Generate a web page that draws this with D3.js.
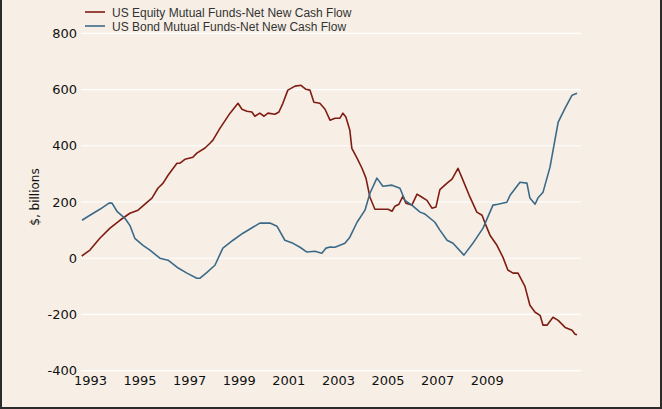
<!DOCTYPE html>
<html>
<head>
<meta charset="utf-8">
<script src="https://cdn.jsdelivr.net/npm/d3@7"></script>
<style>
	body { margin: 0; background: #f7efe6; }
	svg { display: block; }
</style>
</head>
<body>
<div class="chart"></div>
<script>

const equityYears = [1992.67, 1993.00, 1993.40, 1993.81, 1994.21, 1994.61, 1994.94, 1995.30, 1995.50, 1995.74,
	1995.95, 1996.15, 1996.51, 1996.63, 1996.83, 1997.15, 1997.31, 1997.64, 1997.84, 1997.96,
	1998.24, 1998.65, 1998.97, 1999.13, 1999.33, 1999.53, 1999.65, 1999.85, 2000.02, 2000.18,
	2000.46, 2000.62, 2000.78, 2000.98, 2001.27, 2001.51, 2001.71, 2001.87, 2002.03, 2002.27,
	2002.48, 2002.68, 2002.88, 2003.08, 2003.20, 2003.32, 2003.48, 2003.56, 2003.77, 2003.97,
	2004.13, 2004.29, 2004.49, 2004.81, 2005.02, 2005.18, 2005.30, 2005.46, 2005.62, 2005.74,
	2005.98, 2006.19, 2006.39, 2006.59, 2006.79, 2006.95, 2007.11, 2007.40, 2007.60, 2007.84,
	2008.04, 2008.32, 2008.60, 2008.81, 2008.93, 2009.13, 2009.41, 2009.65, 2009.85, 2010.06,
	2010.26, 2010.54, 2010.74, 2010.95, 2011.15, 2011.27, 2011.43, 2011.67, 2011.88, 2012.16,
	2012.44, 2012.56, 2012.64];
const equityValues = [8, 29, 71, 107, 135, 160, 171, 199, 214, 249,
	267, 295, 338, 338, 352, 359, 374, 392, 409, 420,
	462, 516, 551, 530, 523, 520, 505, 516, 505, 516,
	512, 520, 551, 598, 612, 615, 601, 598, 555, 551,
	530, 491, 498, 498, 516, 502, 455, 391, 356, 320,
	285, 217, 174, 174, 174, 167, 185, 192, 221, 196,
	189, 228, 217, 206, 178, 182, 244, 267, 281, 320,
	278, 218, 164, 153, 125, 82, 46, 4, -42, -53,
	-53, -100, -167, -192, -203, -238, -238, -210, -221, -246,
	-256, -270, -272];

const bondYears = [1992.68, 1993.00, 1993.40, 1993.77, 1993.89, 1994.09, 1994.41, 1994.61, 1994.81, 1995.14,
	1995.42, 1995.82, 1996.15, 1996.51, 1996.91, 1997.31, 1997.44, 1997.72, 1998.04, 1998.36,
	1998.77, 1999.17, 1999.57, 1999.85, 2000.26, 2000.54, 2000.86, 2001.19, 2001.47, 2001.75,
	2002.07, 2002.35, 2002.52, 2002.68, 2002.88, 2003.28, 2003.48, 2003.77, 2004.09, 2004.29,
	2004.57, 2004.81, 2005.18, 2005.50, 2005.70, 2005.98, 2006.31, 2006.51, 2006.91, 2007.11,
	2007.40, 2007.64, 2008.08, 2008.44, 2008.85, 2009.25, 2009.45, 2009.81, 2009.94, 2010.34,
	2010.62, 2010.74, 2010.95, 2011.06, 2011.27, 2011.55, 2011.88, 2012.16, 2012.44, 2012.64];
const bondValues = [135, 153, 174, 196, 196, 167, 142, 117, 71, 46,
	29, 0, -7, -32, -53, -71, -71, -50, -25, 36,
	64, 89, 110, 125, 125, 114, 64, 53, 39, 22,
	25, 18, 36, 40, 39, 53, 75, 128, 171, 231,
	285, 256, 260, 249, 206, 189, 164, 157, 128, 100,
	64, 53, 11, 53, 107, 189, 192, 199, 224, 270,
	267, 214, 192, 214, 235, 324, 484, 534, 580, 587];

const xTickYears = [1993, 1995, 1997, 1999, 2001, 2003, 2005, 2007, 2009];
const yTickValues = [-400, -200, 0, 200, 400, 600, 800];

const seriesNames = ['US Equity Mutual Funds-Net New Cash Flow', 'US Bond Mutual Funds-Net New Cash Flow'];
const seriesColors = ['#7f1d12', '#3b6a89'];

const width = 662;
const height = 409;
const plotLeft = 81;
const plotRight = 581;
const plotTop = 33.3;
const plotBottom = 370.7;

const svg = d3.select('.chart').append('svg')
	.attr('width', width)
	.attr('height', height);

svg.append('rect')
	.attr('width', width)
	.attr('height', height)
	.attr('fill', '#f7efe6');

// frame: left, right and bottom only
svg.append('path')
	.attr('d', `M1,0 V${height - 1} H${width - 1} V0`)
	.attr('fill', 'none')
	.attr('stroke', '#2b2b2b')
	.attr('stroke-width', 2);

const x = d3.scaleLinear()
	.domain([1992.64, 2012.8])
	.range([plotLeft, plotRight]);

const y = d3.scaleLinear()
	.domain([-400, 800])
	.range([plotBottom, plotTop]);

svg.selectAll('.grid')
	.data(yTickValues)
	.enter()
	.append('line')
	.attr('x1', plotLeft)
	.attr('x2', plotRight)
	.attr('y1', function(d) {
		return y(d);
	})
	.attr('y2', function(d) {
		return y(d);
	})
	.attr('stroke', '#ffffff')
	.attr('stroke-width', 1.2)
	.attr('class', 'grid');

// plain hyphen for negatives, like the original
const plainNumber = function(d) {
	return String(d);
};

const yAxis = svg.append('g')
	.attr('transform', `translate(${plotLeft},0)`)
	.call(d3.axisLeft(y).tickValues(yTickValues).tickFormat(plainNumber).tickSize(0).tickPadding(4));
yAxis.select('.domain').remove();
yAxis.selectAll('text')
	.attr('font-family', 'DejaVu Sans')
	.attr('font-size', 13)
	.attr('fill', '#111');

const xAxis = svg.append('g')
	.attr('transform', `translate(0,${plotBottom})`)
	.call(d3.axisBottom(x).tickValues(xTickYears).tickFormat(plainNumber).tickSize(0).tickPadding(5));
xAxis.select('.domain').remove();
xAxis.selectAll('text')
	.attr('font-family', 'DejaVu Sans')
	.attr('font-size', 13)
	.attr('fill', '#111');

svg.append('text')
	.text('$, billions')
	.attr('transform', 'translate(39,197) rotate(-90)')
	.attr('text-anchor', 'middle')
	.attr('font-family', 'DejaVu Sans')
	.attr('font-size', 12)
	.attr('fill', '#111');

const line = d3.line()
	.x(function(d) {
		return x(d[0]);
	})
	.y(function(d) {
		return y(d[1]);
	});

const series = [
	d3.zip(equityYears, equityValues),
	d3.zip(bondYears, bondValues)
];

svg.selectAll('.series')
	.data(series)
	.enter()
	.append('path')
	.attr('d', line)
	.attr('fill', 'none')
	.attr('stroke', function(d, i) {
		return seriesColors[i];
	})
	.attr('stroke-width', 1.6)
	.attr('stroke-linejoin', 'round')
	.attr('class', 'series');

const legend = svg.selectAll('.legend')
	.data(seriesNames)
	.enter()
	.append('g')
	.attr('transform', function(d, i) {
		return `translate(85,${12 + i * 14})`;
	})
	.attr('class', 'legend');

legend.append('line')
	.attr('x1', 0)
	.attr('x2', 20)
	.attr('stroke', function(d, i) {
		return seriesColors[i];
	})
	.attr('stroke-width', 1.6);

legend.append('text')
	.text(function(d) {
		return d;
	})
	.attr('x', 27)
	.attr('dy', 4.5)
	.attr('font-family', 'Liberation Sans')
	.attr('font-size', 12)
	.attr('fill', '#333');

</script>
</body>
</html>
